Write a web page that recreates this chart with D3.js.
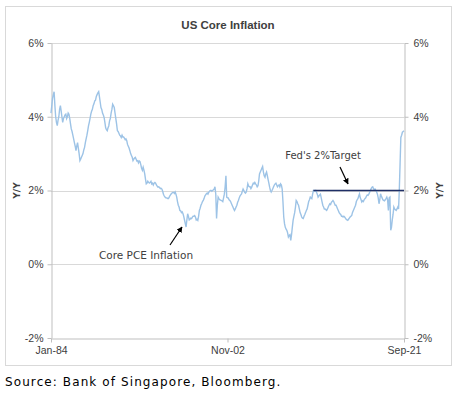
<!DOCTYPE html>
<html>
<head>
<meta charset="utf-8">
<script src="https://cdn.jsdelivr.net/npm/d3@7"></script>
<style>
  body { margin: 0; background: #fff; }
  text { font-family: "DejaVu Sans", sans-serif; }
</style>
</head>
<body>
<div id="chart"></div>
<script>
// monthly core PCE y/y, Jan-84 .. Sep-21
const corePce = [
  4.1, 4.3, 4.5, 4.6, 4.68, 4.3, 4.0, 3.85, 3.76, 3.9, 4.0, 4.2,      // 1984
  4.3, 4.15, 4.0, 3.85, 3.95, 4.0, 4.05, 4.07, 3.95, 4.0, 4.1, 4.07,  // 1985
  3.95, 3.8, 3.67, 3.6, 3.5, 3.4, 3.3, 3.2, 3.08, 3.2, 3.3, 3.15,     // 1986
  3.0, 2.81, 2.85, 2.9, 2.95, 3.0, 3.1, 3.17, 3.3, 3.4, 3.5, 3.62,    // 1987
  3.75, 3.85, 3.95, 4.07, 4.15, 4.2, 4.3, 4.35, 4.43, 4.45, 4.55, 4.6, // 1988
  4.65, 4.68, 4.55, 4.4, 4.25, 4.2, 4.1, 4.05, 3.98, 3.85, 3.7, 3.65, // 1989
  3.62, 3.7, 3.75, 3.89, 3.95, 4.1, 4.2, 4.34, 4.3, 4.25, 4.1, 3.95,  // 1990
  3.8, 3.62, 3.6, 3.55, 3.5, 3.48, 3.44, 3.5, 3.45, 3.45, 3.42, 3.38, // 1991
  3.4, 3.35, 3.25, 3.2, 3.15, 3.08, 3.0, 2.95, 2.9, 2.81, 2.85, 2.88, // 1992
  2.9, 2.85, 2.8, 2.81, 2.75, 2.8, 2.78, 2.7, 2.6, 2.55, 2.63, 2.55,  // 1993
  2.45, 2.3, 2.18, 2.2, 2.25, 2.22, 2.2, 2.22, 2.25, 2.18, 2.2, 2.15, // 1994
  2.2, 2.22, 2.2, 2.15, 2.12, 2.09, 2.1, 2.08, 2.05, 2.06, 2.04, 1.98, // 1995
  1.9, 1.85, 1.82, 1.8, 1.8, 1.79, 1.78, 1.8, 1.85, 1.88, 1.91, 1.93, // 1996
  1.95, 1.95, 1.92, 1.96, 1.9, 1.82, 1.7, 1.6, 1.55, 1.46, 1.45, 1.4, // 1997
  1.42, 1.37, 1.3, 1.2, 1.1, 1.01, 1.2, 1.37, 1.3, 1.2, 1.22, 1.25,   // 1998
  1.24, 1.28, 1.3, 1.3, 1.32, 1.28, 1.2, 1.22, 1.19, 1.3, 1.46, 1.52, // 1999
  1.6, 1.65, 1.7, 1.73, 1.78, 1.85, 1.88, 1.91, 1.93, 1.9, 1.95, 1.98, // 2000
  2.0, 2.0, 1.98, 2.0, 2.02, 2.04, 2.1, 1.9, 1.24, 1.6, 1.82, 1.78,   // 2001
  1.75, 1.74, 1.73, 1.72, 1.7, 1.8, 1.9, 2.1, 2.4, 1.82, 1.8, 1.8,    // 2002
  1.75, 1.73, 1.7, 1.65, 1.6, 1.55, 1.5, 1.46, 1.5, 1.55, 1.6, 1.68,  // 2003
  1.73, 1.8, 1.85, 1.88, 1.91, 1.98, 2.04, 2.0, 1.95, 1.93, 1.96, 2.05, // 2004
  2.18, 2.12, 2.1, 2.1, 2.05, 2.09, 2.15, 2.2, 2.18, 2.22, 2.18, 2.15, // 2005
  2.1, 2.13, 2.25, 2.45, 2.5, 2.55, 2.6, 2.65, 2.5, 2.4, 2.36, 2.45,  // 2006
  2.5, 2.4, 2.3, 2.2, 2.09, 2.0, 1.96, 2.0, 2.05, 2.1, 2.15, 2.18,    // 2007
  2.2, 2.15, 2.1, 2.13, 2.15, 2.1, 2.18, 2.15, 2.04, 1.7, 1.28, 1.1,  // 2008
  1.0, 0.95, 0.92, 0.85, 0.74, 0.78, 0.8, 0.65, 0.8, 1.0, 1.19, 1.3,  // 2009
  1.4, 1.55, 1.73, 1.7, 1.64, 1.6, 1.5, 1.4, 1.35, 1.28, 1.25, 1.24,  // 2010
  1.3, 1.35, 1.4, 1.46, 1.5, 1.6, 1.7, 1.75, 1.82, 1.8, 1.78, 1.9,    // 2011
  2.0, 2.0, 1.98, 2.0, 1.95, 1.9, 1.82, 1.85, 1.88, 1.9, 1.8, 1.7,    // 2012
  1.6, 1.55, 1.5, 1.5, 1.48, 1.46, 1.5, 1.55, 1.6, 1.64, 1.62, 1.68,  // 2013
  1.7, 1.73, 1.7, 1.65, 1.6, 1.6, 1.55, 1.5, 1.45, 1.4, 1.37, 1.35,   // 2014
  1.3, 1.3, 1.28, 1.3, 1.28, 1.25, 1.22, 1.2, 1.19, 1.22, 1.25, 1.28, // 2015
  1.3, 1.32, 1.4, 1.45, 1.5, 1.55, 1.6, 1.7, 1.75, 1.78, 1.85, 1.91,  // 2016
  1.8, 1.75, 1.69, 1.72, 1.7, 1.75, 1.78, 1.8, 1.85, 1.88, 1.87, 1.9, // 2017
  1.95, 2.0, 2.05, 2.09, 2.1, 2.05, 2.02, 2.04, 2.0, 1.96, 1.9, 1.8,  // 2018
  1.64, 1.75, 1.91, 1.85, 1.8, 1.75, 1.73, 1.72, 1.75, 1.78, 1.82, 1.75, // 2019
  1.46, 1.8, 1.82, 0.92, 1.0, 1.2, 1.35, 1.55, 1.5, 1.48, 1.46, 1.5,  // 2020
  1.55, 1.5, 2.0, 2.72, 3.44, 3.5, 3.58, 3.6, 3.62                    // 2021
];
const startMonth = "Jan-84";
const xLabels = ["Jan-84", "Nov-02", "Sep-21"];
const yTicks = [-2, 0, 2, 4, 6];
const targetMonths = ["Jan-12", "Sep-21"];
const targetValues = [2, 2];

const W = 462, H = 397;
const margin = { top: 43, right: 58, bottom: 59, left: 51 };
const parseM = d3.timeParse("%b-%y");
const start = parseM(startMonth);
const series = corePce.map((v, i) => ({ date: d3.timeMonth.offset(start, i), value: v }));

const svg = d3.select("#chart").append("svg")
  .attr("width", W).attr("height", H);

// outer frame
svg.append("rect")
  .attr("x", 5.5).attr("y", 6.5).attr("width", 446).attr("height", 359)
  .attr("fill", "none").attr("stroke", "#d9d9d9");

const x = d3.scaleTime()
  .domain([start, parseM(xLabels[2])])
  .range([margin.left, W - margin.right]);
const y = d3.scaleLinear()
  .domain([-2, 6])
  .range([H - margin.bottom, margin.top]);

// gridlines
svg.append("g").selectAll("line")
  .data(yTicks.filter(d => d > -2))
  .enter().append("line")
  .attr("x1", x.range()[0]).attr("x2", x.range()[1])
  .attr("y1", d => Math.round(y(d)) + 0.5).attr("y2", d => Math.round(y(d)) + 0.5)
  .attr("stroke", "#d9d9d9");

const fmt = d => d + "%";

// left axis
const gl = svg.append("g")
  .attr("transform", "translate(" + (margin.left + 0.5) + ",0)")
  .call(d3.axisLeft(y).tickValues(yTicks).tickFormat(fmt).tickSizeInner(4).tickSizeOuter(0).tickPadding(4));
// right axis
const gr = svg.append("g")
  .attr("transform", "translate(" + (W - margin.right + 0.5) + ",0)")
  .call(d3.axisRight(y).tickValues(yTicks).tickFormat(fmt).tickSizeInner(4).tickSizeOuter(0).tickPadding(5));
// bottom axis
const gb = svg.append("g")
  .attr("transform", "translate(0," + (Math.round(y(-2)) + 0.5) + ")")
  .call(d3.axisBottom(x).tickValues(xLabels.map(parseM)).tickFormat((d, i) => xLabels[i]).tickSizeInner(4).tickSizeOuter(0).tickPadding(4));

[gl, gr, gb].forEach(g => {
  g.select(".domain").attr("stroke", "#bfbfbf");
  g.selectAll(".tick line").attr("stroke", "#bfbfbf");
  g.selectAll("text").attr("fill", "#404040")
    .style("font-family", "'Liberation Sans', sans-serif").style("font-size", "10.5px");
});

// series
const line = d3.line().x(d => x(d.date)).y(d => y(d.value));
svg.append("path")
  .datum(series)
  .attr("d", line)
  .attr("fill", "none")
  .attr("stroke", "#9dc3e6")
  .attr("stroke-width", 1.4);

// fed target
svg.append("path")
  .datum(targetMonths.map((m, i) => ({ date: parseM(m), value: targetValues[i] })))
  .attr("d", line)
  .attr("fill", "none")
  .attr("stroke", "#1f2f66")
  .attr("stroke-width", 1.3);

// title
svg.append("text")
  .attr("x", 228).attr("y", 29)
  .attr("text-anchor", "middle")
  .attr("fill", "#404040")
  .style("font-family", "'Liberation Sans', sans-serif")
  .style("font-size", "11.5px").style("font-weight", "bold")
  .text("US Core Inflation");

// axis titles
svg.append("text")
  .attr("transform", "translate(20," + y(2) + ") rotate(-90)")
  .attr("text-anchor", "middle")
  .attr("fill", "#404040")
  .style("font-size", "9px").style("font-weight", "bold")
  .text("Y/Y");
svg.append("text")
  .attr("transform", "translate(443," + y(2) + ") rotate(-90)")
  .attr("text-anchor", "middle")
  .attr("fill", "#404040")
  .style("font-size", "9px").style("font-weight", "bold")
  .text("Y/Y");

// arrows
svg.append("defs").append("marker")
  .attr("id", "ah").attr("viewBox", "0 0 10 10")
  .attr("refX", 9).attr("refY", 5)
  .attr("markerWidth", 5).attr("markerHeight", 5)
  .attr("orient", "auto")
  .append("path").attr("d", "M0,0L10,5L0,10z").attr("fill", "#000");

svg.append("line")
  .attr("x1", 170).attr("y1", 245).attr("x2", 182).attr("y2", 227)
  .attr("stroke", "#000").attr("stroke-width", 1.2)
  .attr("marker-end", "url(#ah)");
svg.append("text")
  .attr("x", 146).attr("y", 259)
  .attr("text-anchor", "middle")
  .attr("fill", "#404040")
  .style("font-size", "10.5px")
  .text("Core PCE Inflation");

svg.append("line")
  .attr("x1", 340).attr("y1", 167).attr("x2", 348).attr("y2", 184)
  .attr("stroke", "#000").attr("stroke-width", 1.2)
  .attr("marker-end", "url(#ah)");
svg.append("text")
  .attr("x", 323).attr("y", 159)
  .attr("text-anchor", "middle")
  .attr("fill", "#404040")
  .style("font-size", "10px")
  .text("Fed's 2%Target");

// source
svg.append("text")
  .attr("x", 5).attr("y", 386)
  .attr("fill", "#000")
  .style("font-size", "12px").style("letter-spacing", "1.1px")
  .text("Source: Bank of Singapore, Bloomberg.");
</script>
</body>
</html>
